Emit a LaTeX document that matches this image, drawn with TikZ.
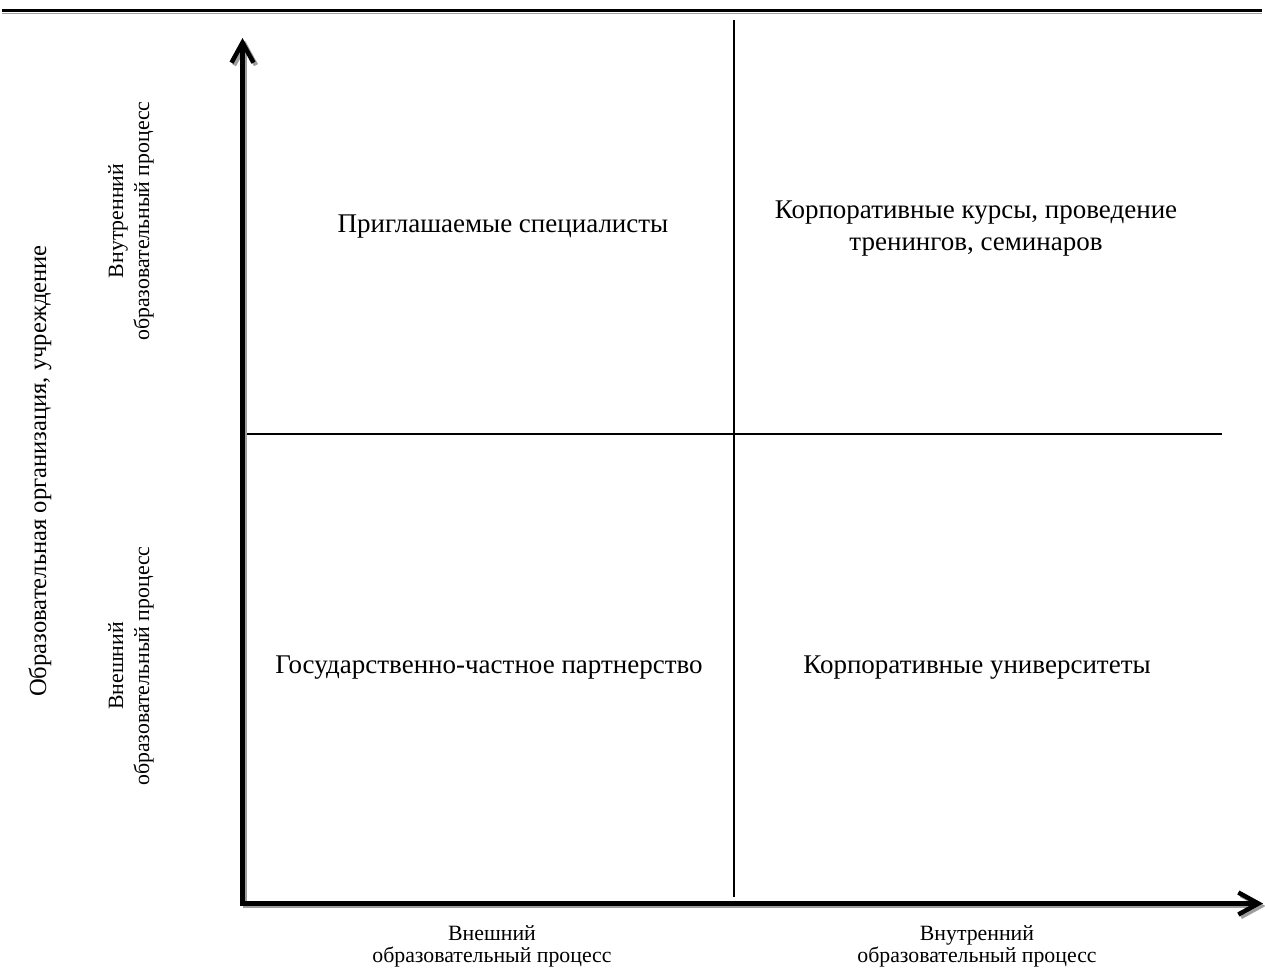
\documentclass[tikz,border=0pt]{standalone}
\usepackage{fontspec}
\setmainfont{Liberation Serif}
\usetikzlibrary{arrows.meta}
\begin{document}
\begin{tikzpicture}[x=1pt,y=-1pt,
  axis/.style={line width=4.5pt, {Straight Barb[length=20pt,width=22pt]}-{Straight Barb[length=20pt,width=22pt]}},
  axisshadow/.style={axis, draw=black!38},
  divider/.style={line width=2.2pt},
  quad/.style={font=\fontsize{27}{31.5}\selectfont, align=center, inner sep=0pt},
  small/.style={font=\fontsize{21.8}{26}\selectfont, align=center, inner sep=0pt},
  smallb/.style={font=\fontsize{21.8}{22}\selectfont, align=center, inner sep=0pt},
  big/.style={font=\fontsize{24.6}{27}\selectfont, inner sep=0pt}]
\useasboundingbox (0,0) rectangle (1265,969);
% top rule
\coordinate (tl) at (2,10.5);
\coordinate (tr) at (1262,10.5);
\draw[black!38, line width=1pt] ([yshift=-3pt]tl) -- ([yshift=-3pt]tr);
\draw[line width=3pt] (tl) -- (tr);
% axes
\coordinate (ytop) at (242.5,38);
\coordinate (corner) at (242.5,903.5);
\coordinate (xend) at (1263,903.5);
\draw[axisshadow, transform canvas={xshift=2.5pt,yshift=-2.5pt}] (ytop) -- (corner) -- (xend);
\draw[axis] (ytop) -- (corner) -- (xend);
% dividers
\coordinate (vtop) at (734,20);
\coordinate (vbot) at (734,896.5);
\coordinate (hl) at (247,434);
\coordinate (hr) at (1222,434);
\draw[divider] (vtop) -- (vbot);
\draw[divider] (hl) -- (hr);
% quadrant texts
\node[quad] (q1) at (503,227) {Приглашаемые специалисты};
\node[quad] (q2) at (976,228.5) {Корпоративные курсы, проведение\\тренингов, семинаров};
\node[quad] (q3) at (489,668) {Государственно-частное партнерство};
\node[quad] (q4) at (977,668) {Корпоративные университеты};
% vertical axis labels
\node[small, rotate=90] (yl1) at (131,221) {Внутренний\\образовательный процесс};
\node[small, rotate=90] (yl2) at (131,666) {Внешний\\образовательный процесс};
\node[big, rotate=90] (ybig) at (40,471) {Образовательная организация, учреждение};
% horizontal axis labels
\node[smallb] (xl1) at (492,946) {Внешний\\образовательный процесс};
\node[smallb] (xl2) at (977,946) {Внутренний\\образовательный процесс};
\end{tikzpicture}
\end{document}
